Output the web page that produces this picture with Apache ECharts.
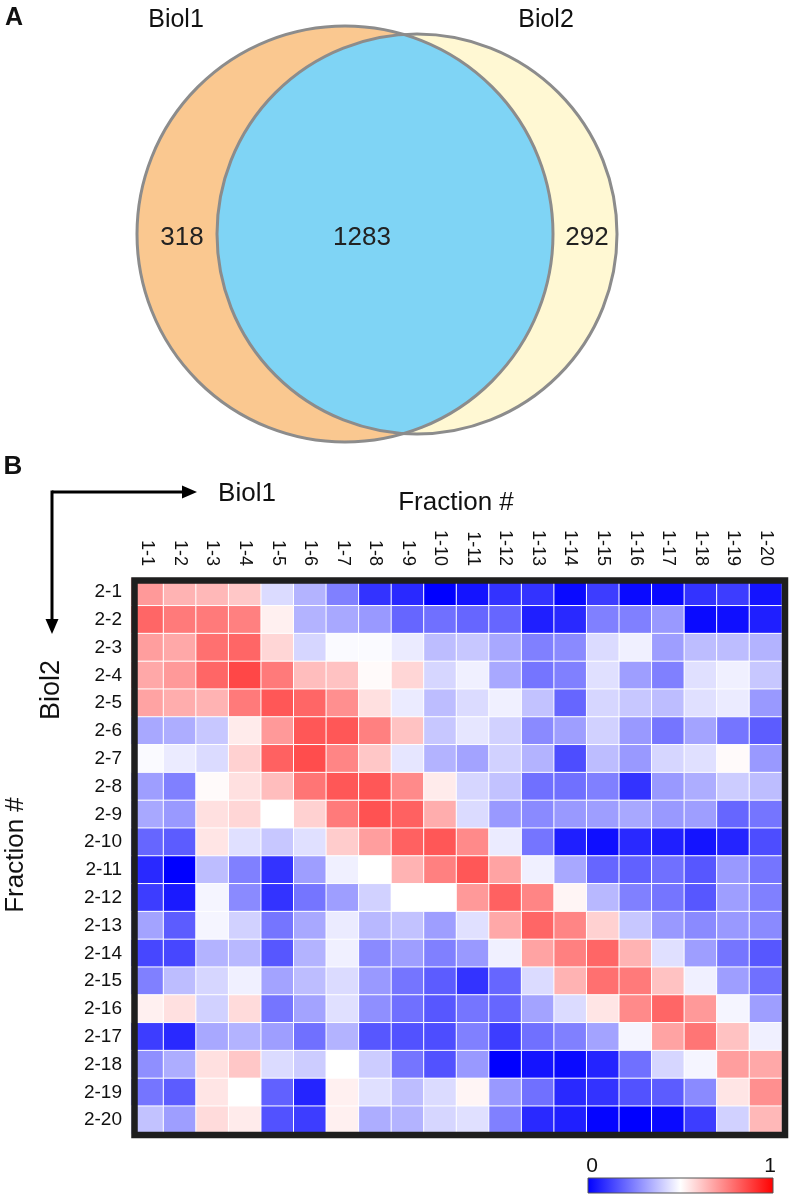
<!DOCTYPE html>
<html>
<head>
<meta charset="utf-8">
<script src="https://cdn.jsdelivr.net/npm/echarts@6/dist/echarts.min.js"></script>
<style>
  html, body { margin: 0; padding: 0; background: #fff; }
  #chart { width: 791px; height: 1196px; }
</style>
</head>
<body>
<div id="chart"></div>
<script>
// ---------- DATA ----------
const vennSets = ['Biol1', 'Biol2'];
const vennCounts = [318, 1283, 292]; // Biol1 only, both, Biol2 only

const colLabels = ['1-1','1-2','1-3','1-4','1-5','1-6','1-7','1-8','1-9','1-10',
                   '1-11','1-12','1-13','1-14','1-15','1-16','1-17','1-18','1-19','1-20'];
const rowLabels = ['2-1','2-2','2-3','2-4','2-5','2-6','2-7','2-8','2-9','2-10',
                   '2-11','2-12','2-13','2-14','2-15','2-16','2-17','2-18','2-19','2-20'];

const row2_1  = [0.70,0.65,0.64,0.61,0.43,0.35,0.25,0.10,0.08,0.00,0.04,0.10,0.10,0.02,0.12,0.02,0.02,0.10,0.12,0.04];
const row2_2  = [0.80,0.76,0.76,0.75,0.53,0.35,0.33,0.30,0.20,0.22,0.20,0.20,0.06,0.08,0.25,0.25,0.30,0.02,0.03,0.06];
const row2_3  = [0.69,0.67,0.78,0.80,0.58,0.42,0.49,0.49,0.46,0.37,0.39,0.33,0.25,0.27,0.43,0.47,0.31,0.37,0.37,0.35];
const row2_4  = [0.67,0.70,0.80,0.86,0.76,0.63,0.62,0.51,0.58,0.42,0.47,0.33,0.23,0.25,0.44,0.31,0.25,0.44,0.47,0.39];
const row2_5  = [0.68,0.66,0.65,0.76,0.83,0.80,0.72,0.56,0.46,0.37,0.43,0.47,0.38,0.20,0.42,0.39,0.37,0.44,0.46,0.30];
const row2_6  = [0.33,0.34,0.39,0.54,0.70,0.83,0.83,0.75,0.62,0.39,0.45,0.41,0.27,0.31,0.41,0.30,0.23,0.32,0.23,0.18];
const row2_7  = [0.49,0.46,0.43,0.59,0.81,0.85,0.74,0.61,0.45,0.35,0.32,0.41,0.35,0.15,0.37,0.30,0.42,0.44,0.51,0.30];
const row2_8  = [0.31,0.25,0.51,0.56,0.63,0.77,0.83,0.83,0.73,0.54,0.42,0.38,0.22,0.22,0.25,0.10,0.30,0.34,0.40,0.37];
const row2_9  = [0.33,0.30,0.56,0.58,0.50,0.59,0.76,0.84,0.81,0.66,0.43,0.30,0.27,0.30,0.31,0.33,0.30,0.31,0.20,0.23];
const row2_10 = [0.20,0.18,0.55,0.44,0.39,0.44,0.60,0.69,0.81,0.83,0.73,0.46,0.23,0.06,0.03,0.08,0.06,0.04,0.07,0.15];
const row2_11 = [0.08,0.00,0.37,0.25,0.10,0.31,0.47,0.50,0.65,0.75,0.83,0.68,0.47,0.33,0.20,0.19,0.22,0.17,0.30,0.23];
const row2_12 = [0.12,0.05,0.48,0.27,0.10,0.23,0.31,0.41,0.50,0.50,0.70,0.81,0.74,0.52,0.36,0.25,0.23,0.17,0.31,0.25];
const row2_13 = [0.32,0.18,0.48,0.41,0.23,0.33,0.46,0.36,0.38,0.31,0.44,0.67,0.80,0.74,0.59,0.39,0.30,0.27,0.30,0.27];
const row2_14 = [0.14,0.14,0.35,0.36,0.17,0.35,0.47,0.27,0.31,0.25,0.30,0.47,0.68,0.75,0.80,0.65,0.44,0.31,0.23,0.17];
const row2_15 = [0.25,0.37,0.42,0.47,0.32,0.37,0.43,0.30,0.23,0.18,0.10,0.20,0.43,0.65,0.78,0.76,0.62,0.47,0.31,0.22];
const row2_16 = [0.53,0.56,0.41,0.57,0.23,0.32,0.44,0.28,0.22,0.17,0.23,0.20,0.32,0.43,0.55,0.73,0.80,0.70,0.48,0.31];
const row2_17 = [0.12,0.08,0.33,0.35,0.31,0.22,0.35,0.17,0.16,0.15,0.25,0.12,0.22,0.25,0.32,0.48,0.68,0.77,0.62,0.47];
const row2_18 = [0.28,0.34,0.56,0.61,0.43,0.40,0.50,0.40,0.23,0.16,0.30,0.00,0.04,0.02,0.07,0.22,0.42,0.48,0.69,0.67];
const row2_19 = [0.23,0.18,0.55,0.50,0.19,0.07,0.53,0.44,0.37,0.43,0.52,0.30,0.22,0.08,0.10,0.16,0.18,0.27,0.55,0.72];
const row2_20 = [0.38,0.31,0.57,0.54,0.16,0.12,0.53,0.34,0.35,0.42,0.44,0.25,0.08,0.06,0.01,0.00,0.02,0.12,0.41,0.64];

const colorbarTicks = ['0', '1'];

// ---------- LAYOUT (not data) ----------
const FONT = "'Liberation Sans', Arial, Helvetica, sans-serif";
// venn geometry in axis units: [cx, cy, r]
const vennGeom = [[0, 0, 1.04], [0.36, 0, 1.0]];
const vennLabelPos = [[-0.815, -0.02], [0.085, -0.02], [1.21, -0.02]];
const vennColors = ['#FAC890', '#7FD4F5', '#FFF8D3'];
const heatColors = ['#0000FF', '#FFFFFF', '#FF0000'];

const rows = [row2_1,row2_2,row2_3,row2_4,row2_5,row2_6,row2_7,row2_8,row2_9,row2_10,
              row2_11,row2_12,row2_13,row2_14,row2_15,row2_16,row2_17,row2_18,row2_19,row2_20];
const heatData = [];
rows.forEach((r, yi) => r.forEach((v, xi) => heatData.push([xi, yi, v])));

function circlePts(cx, cy, r, a0, a1, n) {
  const pts = [];
  for (let i = 0; i <= n; i++) {
    const a = a0 + (a1 - a0) * i / n;
    pts.push([cx + r * Math.cos(a), cy + r * Math.sin(a)]);
  }
  return pts;
}

function renderVenn(params, api) {
  if (params.dataIndex !== 0) return;
  const c1 = api.coord([vennGeom[0][0], vennGeom[0][1]]);
  const c2 = api.coord([vennGeom[1][0], vennGeom[1][1]]);
  const r1 = api.size([vennGeom[0][2], 0])[0];
  const r2 = api.size([vennGeom[1][2], 0])[0];
  const d = c2[0] - c1[0];
  const a = (r1 * r1 - r2 * r2 + d * d) / (2 * d);
  const h = Math.sqrt(r1 * r1 - a * a);
  const t1 = Math.atan2(h, a);
  const t2 = Math.atan2(h, a - d);
  const arc1 = circlePts(c1[0], c1[1], r1, -t1, t1, 120);
  const arc2 = circlePts(c2[0], c2[1], r2, t2, 2 * Math.PI - t2, 120);
  const lens = arc1.concat(arc2);
  const stroke = { stroke: '#8C8C8C', lineWidth: 3, fill: null };
  const children = [
    { type: 'circle', shape: { cx: c2[0], cy: c2[1], r: r2 }, style: { fill: vennColors[2] } },
    { type: 'circle', shape: { cx: c1[0], cy: c1[1], r: r1 }, style: { fill: vennColors[0] } },
    { type: 'polygon', shape: { points: lens }, style: { fill: vennColors[1] } },
    { type: 'circle', shape: { cx: c1[0], cy: c1[1], r: r1 }, style: stroke },
    { type: 'circle', shape: { cx: c2[0], cy: c2[1], r: r2 }, style: stroke }
  ];
  vennCounts.forEach((cnt, i) => {
    const p = api.coord(vennLabelPos[i]);
    children.push({
      type: 'text',
      style: { text: String(cnt), x: p[0], y: p[1], align: 'center', verticalAlign: 'middle',
               font: '26px ' + FONT, fill: '#222' }
    });
  });
  return { type: 'group', children: children };
}

const chart = echarts.init(document.getElementById('chart'), null, { renderer: 'canvas' });

const txt = (text, x, y, size, opts) => Object.assign({
  type: 'text', z: 100,
  style: Object.assign({ text: text, x: x, y: y, align: 'center', verticalAlign: 'middle',
                         font: size + 'px ' + FONT, fill: '#111' }, (opts && opts.style) || {})
}, (opts && opts.el) || {});

chart.setOption({
  animation: false,
  backgroundColor: '#fff',
  grid: [
    { left: 131, top: 578, width: 651, height: 556, containLabel: false },
    { left: 45, top: 14, width: 600, height: 440, containLabel: false }
  ],
  xAxis: [
    { gridIndex: 0, type: 'category', data: colLabels, position: 'top',
      axisLine: { show: false }, axisTick: { show: false }, splitLine: { show: false },
      axisLabel: { rotate: 90, fontSize: 18, margin: 12, color: '#111', fontFamily: FONT } },
    { gridIndex: 1, type: 'value', min: -1.5, max: 1.5, show: false }
  ],
  yAxis: [
    { gridIndex: 0, type: 'category', data: rowLabels, inverse: true,
      axisLine: { show: false }, axisTick: { show: false }, splitLine: { show: false },
      axisLabel: { fontSize: 19, margin: 9, color: '#111', fontFamily: FONT } },
    { gridIndex: 1, type: 'value', min: -1.1, max: 1.1, show: false }
  ],
  visualMap: {
    type: 'continuous', min: 0, max: 1, seriesIndex: 1, show: false,
    inRange: { color: heatColors }
  },
  series: [
    { type: 'custom', xAxisIndex: 1, yAxisIndex: 1, coordinateSystem: 'cartesian2d',
      data: vennGeom, renderItem: renderVenn, silent: true, z: 1 },
    { type: 'heatmap', xAxisIndex: 0, yAxisIndex: 0, data: heatData,
      itemStyle: { borderColor: '#FFFFFF', borderWidth: 1 },
      emphasis: { disabled: true } }
  ],
  graphic: [
    txt('A', 14, 18, 25, { style: { font: 'bold 25px ' + FONT } }),
    txt(vennSets[0], 176, 20, 25),
    txt(vennSets[1], 546, 20, 25),
    txt('B', 13, 467, 26, { style: { font: 'bold 26px ' + FONT } }),
    { type: 'polyline', z: 100, shape: { points: [[52, 492], [186, 492]] }, style: { stroke: '#000', lineWidth: 3 } },
    { type: 'polygon', z: 100, shape: { points: [[197, 492], [182, 485.5], [182, 498.5]] }, style: { fill: '#000' } },
    { type: 'polyline', z: 100, shape: { points: [[52, 490.5], [52, 622]] }, style: { stroke: '#000', lineWidth: 3 } },
    { type: 'polygon', z: 100, shape: { points: [[52, 634], [45.5, 619], [58.5, 619]] }, style: { fill: '#000' } },
    txt(vennSets[0], 247, 494, 26),
    txt('Fraction #', 456, 503, 26),
    txt(vennSets[1], 52, 690, 27, { el: { rotation: Math.PI / 2, x: 52, y: 690 }, style: { x: 0, y: 0 } }),
    txt('Fraction #', 16, 855, 26, { el: { rotation: Math.PI / 2, x: 16, y: 855 }, style: { x: 0, y: 0 } }),
    { type: 'rect', z: 100, shape: { x: 134.5, y: 580.5, width: 650.5, height: 554.5 },
      style: { fill: null, stroke: '#1E1E1E', lineWidth: 6.5 } },
    // colorbar (legend of the visualMap colours)
    { type: 'rect', z: 100, shape: { x: 588, y: 1178, width: 185, height: 15 },
      style: {
        fill: { type: 'linear', x: 0, y: 0, x2: 1, y2: 0,
                colorStops: heatColors.map((c, i) => ({ offset: i / (heatColors.length - 1), color: c })) },
        stroke: '#555', lineWidth: 1 } },
    txt(colorbarTicks[0], 592, 1166, 21),
    txt(colorbarTicks[1], 770, 1166, 21)
  ]
});
</script>
</body>
</html>
